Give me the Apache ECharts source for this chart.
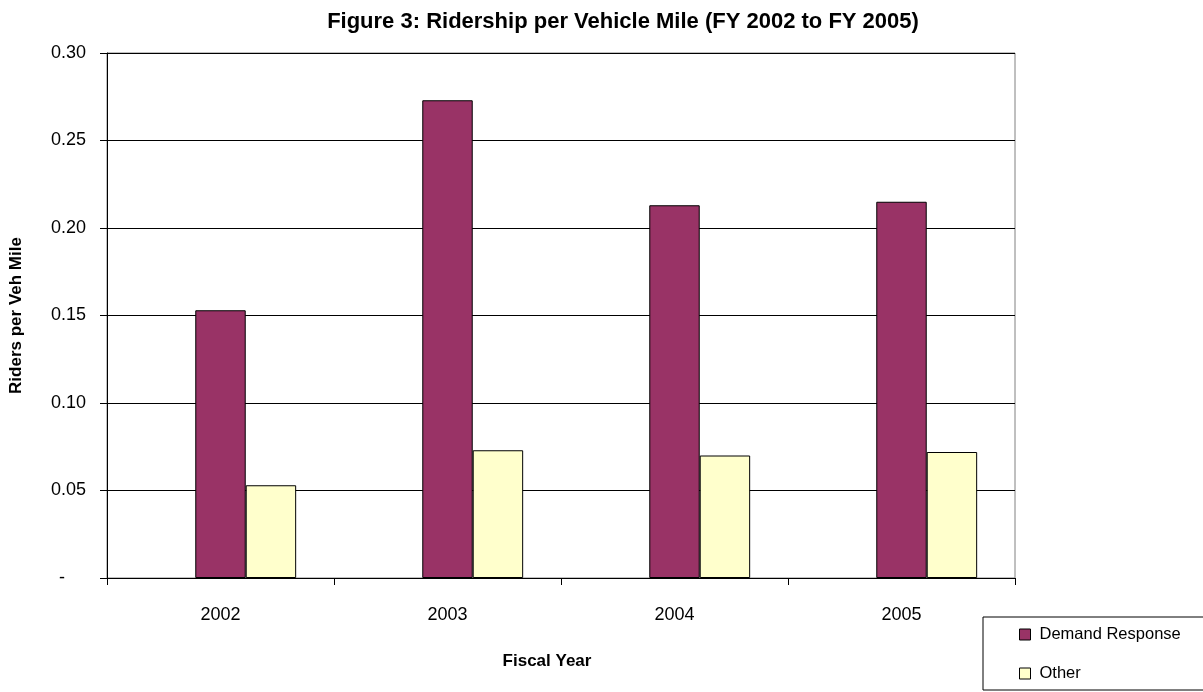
<!DOCTYPE html>
<html><head><meta charset="utf-8">
<script src="https://cdn.jsdelivr.net/npm/echarts@6/dist/echarts.min.js"></script>
<style>html,body{margin:0;padding:0;background:#fff}#c{width:1203px;height:692px}</style>
</head><body><div id="c"></div>
<script>
const years = ['2002', '2003', '2004', '2005'];
const demandResponse = [0.153, 0.273, 0.213, 0.215];
const other = [0.053, 0.073, 0.070, 0.072];
const emptySeries = [null, null, null, null];

const FONT = '"Liberation Sans Narrow", "Arial Narrow", "Liberation Sans", Arial, sans-serif';
const chart = echarts.init(document.getElementById('c'), null, {renderer: 'canvas'});
chart.setOption({
  animation: false,
  backgroundColor: '#fff',
  textStyle: {fontFamily: FONT},
  title: {
    text: 'Figure 3: Ridership per Vehicle Mile (FY 2002 to FY 2005)',
    left: 618, top: 6, textAlign: 'center',
    textStyle: {fontFamily: FONT, fontSize: 22, fontWeight: 'bold', color: '#000'}
  },
  legend: {
    data: ['Demand Response', 'Other'],
    orient: 'vertical', left: 983, top: 617,
    padding: [9, 60, 8, 36], itemGap: 22,
    itemWidth: 11, itemHeight: 11, icon: 'rect',
    itemStyle: {borderColor: '#000', borderWidth: 1},
    borderColor: '#000', borderWidth: 1,
    textStyle: {fontFamily: FONT, fontSize: 16.5, color: '#000', padding: [0, 0, 0, 4]}
  },
  grid: {left: 107, right: 188, top: 53, bottom: 114, show: true, borderColor: '#808080', borderWidth: 1},
  xAxis: {
    type: 'category', data: years,
    name: 'Fiscal Year', nameLocation: 'middle', nameGap: 75,
    nameTextStyle: {fontFamily: FONT, fontSize: 17, fontWeight: 'bold', color: '#000', padding: [0, 28, 0, 0]},
    axisLine: {lineStyle: {color: '#000', width: 1}},
    axisTick: {show: true, length: 7, inside: false, lineStyle: {color: '#000'}},
    axisLabel: {margin: 28, fontFamily: FONT, fontSize: 18, color: '#000'}
  },
  yAxis: {
    type: 'value', min: 0, max: 0.30, interval: 0.05,
    name: 'Riders per Veh Mile', nameLocation: 'middle', nameGap: 82,
    nameTextStyle: {fontFamily: FONT, fontSize: 17, fontWeight: 'bold', color: '#000'},
    axisLine: {show: true, lineStyle: {color: '#000', width: 1}},
    axisTick: {show: true, length: 7, lineStyle: {color: '#000'}},
    splitLine: {show: true, lineStyle: {color: '#000', width: 1}},
    axisLabel: {
      margin: 21, fontFamily: FONT, fontSize: 18, color: '#000',
      formatter: v => v === 0 ? '{z|-}' : v.toFixed(2),
      rich: {z: {fontFamily: FONT, fontSize: 18, color: '#000', padding: [0, 21, 0, 0]}}
    }
  },
  series: [
    {name: '', type: 'bar', data: emptySeries, barGap: '0%', barCategoryGap: '33.33%'},
    {name: 'Demand Response', type: 'bar', data: demandResponse, barGap: '0%', barCategoryGap: '33.33%',
     itemStyle: {color: '#993366', borderColor: '#000', borderWidth: 1}},
    {name: 'Other', type: 'bar', data: other, barGap: '0%', barCategoryGap: '33.33%',
     itemStyle: {color: '#FFFFCC', borderColor: '#000', borderWidth: 1}}
  ]
});
</script></body></html>
